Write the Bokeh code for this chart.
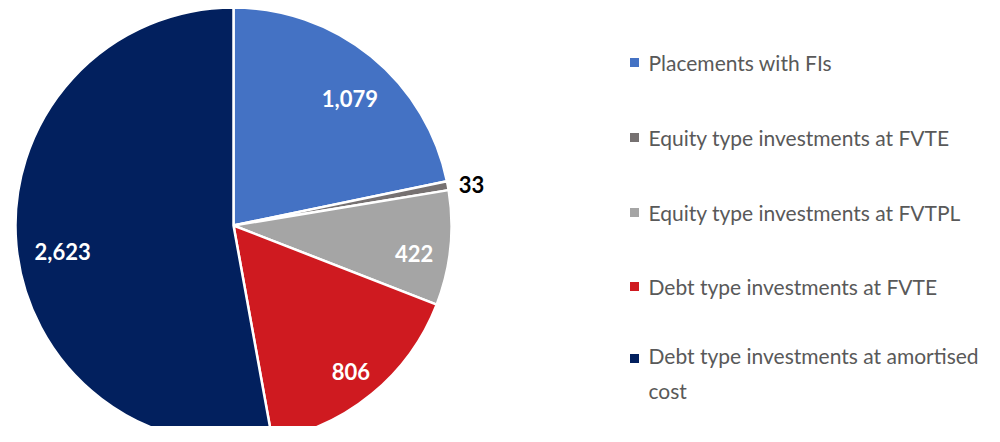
import math
from bokeh.plotting import figure
from bokeh.models import Range1d, ColumnDataSource
from bokeh.core.properties import value
from bokeh.embed import file_html
from bokeh.resources import INLINE

categories = ["Placements with FIs", "Equity type investments at FVTE",
              "Equity type investments at FVTPL", "Debt type investments at FVTE",
              "Debt type investments at amortised\ncost"]
values = [1079, 33, 422, 806, 2623]
labels = ["1,079", "33", "422", "806", "2,623"]
colors = ["#4472C4", "#767171", "#A5A5A5", "#CF1A20", "#02205E"]

W, H = 984, 426
# data coordinates: x = image x, y = H - image y
p = figure(width=W, height=H, output_backend="svg", toolbar_location=None,
           x_range=Range1d(0, W), y_range=Range1d(0, H),
           min_border=0, outline_line_color=None)
p.axis.visible = False
p.grid.visible = False

cx, cy, R = 233, H - 225, 218
total = sum(values)
starts, ends, lx, ly, tcol, xo, yo = [], [], [], [], [], [], []
cum = 0.0
for i, v in enumerate(values):
    a0 = cum / total * 2 * math.pi
    cum += v
    a1 = cum / total * 2 * math.pi
    starts.append(math.pi / 2 - a1)
    ends.append(math.pi / 2 - a0)
    mid = (a0 + a1) / 2
    small = v / total < 0.02
    rr = R * (1.11 if small else 0.81)
    lx.append(cx + rr * math.sin(mid))
    ly.append(cy + rr * math.cos(mid))
    tcol.append("black" if small else "white")
    xo.append(0 if small else 5)
    yo.append(3 if small else 10)

src = ColumnDataSource(dict(start=starts, end=ends, color=colors, lx=lx, ly=ly,
                            label=labels, tcol=tcol, xo=xo, yo=yo))
p.wedge(x=cx, y=cy, radius=R, start_angle="start", end_angle="end",
        fill_color="color", line_color="white", line_width=2.5, source=src)
p.text(x="lx", y="ly", text="label", text_color="tcol", text_align="center",
       text_baseline="middle", text_font=value("Lato"), text_font_style="bold",
       text_font_size="22px", x_offset="xo", y_offset="yo", source=src)

line_h = 29
leg_y = [62, 137, 212, 286, 358]
ly_data = [H - y - (c.count("\n")) * line_h / 2 for y, c in zip(leg_y, categories)]
ly_mark = [H - y for y in leg_y]
lsrc = ColumnDataSource(dict(x=[634] * 5, y=ly_mark, ty=ly_data, tx=[648] * 5,
                             name=categories, color=colors))
p.rect(x="x", y="y", width=9, height=9, width_units="screen", height_units="screen",
       fill_color="color", line_color=None, source=lsrc)
p.text(x="tx", y="ty", text="name", text_align="left", text_baseline="middle",
       text_font=value("Lato"), text_font_size="21px", text_color="#595959",
       text_line_height=line_h / 21, source=lsrc)

open("out.html", "w").write(file_html(p, INLINE))
